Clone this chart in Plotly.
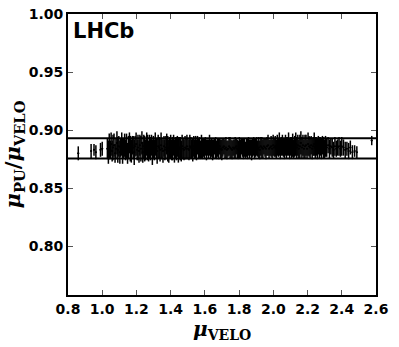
import plotly.graph_objects as go

# ---- data ----
x_early = [0.860, 0.935, 0.952, 0.963, 0.990, 1.000]
y_early = [0.880, 0.882, 0.883, 0.881, 0.883, 0.884]
e_early = [0.006, 0.006, 0.005, 0.006, 0.006, 0.006]

x_main = [
    1.030,1.036,1.041,1.047,1.052,1.058,1.063,1.069,1.075,1.080,
    1.086,1.091,1.097,1.103,1.108,1.114,1.119,1.125,1.131,1.136,
    1.142,1.148,1.153,1.159,1.164,1.170,1.176,1.181,1.187,1.192,
    1.198,1.204,1.209,1.215,1.220,1.226,1.232,1.237,1.243,1.248,
    1.254,1.260,1.265,1.271,1.276,1.282,1.288,1.293,1.299,1.305,
    1.310,1.316,1.321,1.327,1.333,1.338,1.344,1.349,1.355,1.361,
    1.366,1.372,1.377,1.383,1.389,1.394,1.400,1.406,1.411,1.417,
    1.422,1.428,1.434,1.439,1.445,1.450,1.456,1.462,1.467,1.473,
    1.478,1.484,1.490,1.495,1.501,1.507,1.512,1.518,1.523,1.529,
    1.535,1.540,1.546,1.551,1.557,1.563,1.568,1.574,1.580,1.585,
    1.591,1.597,1.603,1.609,1.615,1.621,1.627,1.633,1.639,1.645,
    1.651,1.657,1.663,1.669,1.675,1.681,1.687,1.693,1.699,1.705,
    1.711,1.717,1.723,1.729,1.735,1.741,1.747,1.753,1.759,1.765,
    1.771,1.777,1.783,1.789,1.795,1.801,1.807,1.813,1.819,1.825,
    1.831,1.837,1.843,1.849,1.855,1.861,1.867,1.873,1.879,1.885,
    1.891,1.897,1.903,1.909,1.915,1.921,1.927,1.933,1.939,1.945,
    1.951,1.957,1.963,1.969,1.975,1.981,1.987,1.993,1.999,2.005,
    2.011,2.017,2.023,2.029,2.035,2.041,2.047,2.053,2.059,2.065,
    2.071,2.077,2.083,2.089,2.095,2.101,2.107,2.113,2.119,2.125,
    2.131,2.137,2.143,2.149,2.155,2.161,2.167,2.173,2.179,2.185,
    2.191,2.197,2.203,2.209,2.215,2.221,2.227,2.233,2.239,2.245,
    2.251,2.257,2.263,2.269,2.275,2.281,2.287,2.293,2.299,2.305,
    2.312,2.320,2.328,2.336,2.344,2.352,2.360,2.368,2.376,2.384,
    2.392,2.400,2.410,2.420,2.430,2.440,2.450,2.462,2.475,2.488,
]
y_main = [
    0.884,0.881,0.886,0.883,0.888,0.882,0.885,0.887,0.880,0.884,
    0.889,0.883,0.886,0.881,0.885,0.888,0.882,0.884,0.887,0.883,
    0.886,0.880,0.885,0.889,0.884,0.882,0.887,0.885,0.881,0.886,
    0.888,0.883,0.885,0.882,0.887,0.884,0.889,0.881,0.886,0.884,
    0.883,0.888,0.885,0.882,0.886,0.884,0.887,0.881,0.885,0.883,
    0.888,0.884,0.882,0.886,0.885,0.883,0.887,0.884,0.882,0.886,
    0.883,0.885,0.888,0.884,0.882,0.885,0.886,0.883,0.884,0.887,
    0.882,0.885,0.884,0.886,0.883,0.885,0.884,0.882,0.886,0.884,
    0.883,0.885,0.884,0.886,0.884,0.883,0.886,0.885,0.884,0.883,
    0.886,0.884,0.885,0.883,0.887,0.884,0.885,0.883,0.886,0.884,
    0.885,0.884,0.886,0.883,0.885,0.884,0.887,0.884,0.885,0.883,
    0.884,0.886,0.885,0.883,0.885,0.884,0.886,0.884,0.883,0.885,
    0.886,0.884,0.885,0.883,0.884,0.886,0.885,0.884,0.883,0.885,
    0.884,0.885,0.886,0.884,0.883,0.885,0.884,0.886,0.885,0.884,
    0.885,0.883,0.885,0.884,0.886,0.884,0.885,0.883,0.885,0.886,
    0.884,0.885,0.886,0.884,0.885,0.883,0.886,0.885,0.884,0.886,
    0.885,0.884,0.886,0.887,0.884,0.885,0.886,0.884,0.887,0.885,
    0.886,0.884,0.887,0.885,0.888,0.884,0.886,0.887,0.885,0.884,
    0.887,0.885,0.886,0.888,0.884,0.886,0.885,0.887,0.884,0.886,
    0.888,0.885,0.887,0.884,0.886,0.889,0.885,0.887,0.884,0.886,
    0.887,0.884,0.888,0.886,0.885,0.887,0.884,0.886,0.888,0.885,
    0.886,0.884,0.887,0.885,0.886,0.884,0.887,0.885,0.884,0.886,
    0.885,0.887,0.884,0.886,0.885,0.883,0.886,0.884,0.885,0.886,
    0.884,0.886,0.885,0.883,0.884,0.882,0.885,0.881,0.882,0.881,
]
e_main = [
    0.009,0.010,0.011,0.008,0.010,0.009,0.011,0.010,0.008,0.009,
    0.010,0.011,0.009,0.010,0.008,0.010,0.011,0.009,0.010,0.009,
    0.011,0.009,0.010,0.009,0.011,0.010,0.008,0.010,0.011,0.009,
    0.010,0.009,0.011,0.010,0.009,0.011,0.010,0.009,0.010,0.011,
    0.009,0.010,0.011,0.009,0.010,0.010,0.009,0.011,0.010,0.009,
    0.010,0.009,0.011,0.010,0.009,0.010,0.011,0.009,0.010,0.009,
    0.009,0.010,0.009,0.011,0.010,0.009,0.010,0.009,0.010,0.009,
    0.010,0.009,0.010,0.009,0.011,0.009,0.010,0.009,0.010,0.009,
    0.009,0.010,0.009,0.010,0.009,0.009,0.010,0.009,0.008,0.010,
    0.009,0.008,0.010,0.009,0.008,0.009,0.009,0.008,0.010,0.009,
    0.008,0.009,0.008,0.009,0.007,0.008,0.009,0.008,0.008,0.009,
    0.008,0.007,0.009,0.008,0.008,0.009,0.007,0.008,0.009,0.008,
    0.007,0.008,0.009,0.008,0.007,0.008,0.009,0.008,0.008,0.007,
    0.008,0.009,0.007,0.008,0.008,0.009,0.008,0.007,0.008,0.009,
    0.008,0.007,0.008,0.009,0.008,0.008,0.007,0.009,0.008,0.008,
    0.009,0.008,0.008,0.007,0.009,0.008,0.008,0.009,0.008,0.007,
    0.008,0.009,0.008,0.009,0.008,0.007,0.009,0.008,0.009,0.008,
    0.009,0.008,0.009,0.008,0.010,0.009,0.008,0.009,0.008,0.009,
    0.009,0.009,0.008,0.010,0.009,0.008,0.009,0.010,0.008,0.009,
    0.010,0.009,0.009,0.008,0.010,0.010,0.009,0.009,0.008,0.010,
    0.009,0.008,0.010,0.009,0.009,0.008,0.009,0.008,0.010,0.009,
    0.008,0.009,0.008,0.009,0.008,0.009,0.008,0.009,0.008,0.009,
    0.008,0.007,0.008,0.007,0.008,0.007,0.008,0.007,0.007,0.008,
    0.007,0.008,0.007,0.007,0.006,0.007,0.006,0.006,0.005,0.005,
]
x_last = [2.575]
y_last = [0.891]
e_last = [0.004]

x_bin_halfwidth = 0.006
band_upper = 0.893
band_lower = 0.8755

x_ticks = [0.8, 1.0, 1.2, 1.4, 1.6, 1.8, 2.0, 2.2, 2.4, 2.6]
y_ticks = [0.80, 0.85, 0.90, 0.95, 1.00]

xs = x_early + x_main + x_last
ys = y_early + y_main + y_last
es = e_early + e_main + e_last

fig = go.Figure()
fig.add_trace(go.Scatter(
    x=xs, y=ys, mode="markers",
    marker=dict(color="black", size=2),
    error_y=dict(type="data", array=es, color="black", thickness=1.5, width=0),
    error_x=dict(type="data", array=[x_bin_halfwidth] * len(xs), color="black", thickness=1, width=0),
    showlegend=False,
))

for yv in (band_upper, band_lower):
    fig.add_shape(type="line", xref="paper", yref="y", x0=0, x1=1, y0=yv, y1=yv,
                  line=dict(color="black", width=2))

fig.add_annotation(text="<b>LHCb</b>", xref="paper", yref="paper", x=0.01, y=0.99,
                   xanchor="left", yanchor="top", showarrow=False,
                   font=dict(family="DejaVu Sans", size=21, color="black"))

# x-axis title
fig.add_annotation(text="<i>μ</i><sub>VELO</sub>", xref="paper", yref="paper", x=0.5, y=-0.07,
                   xanchor="center", yanchor="top", showarrow=False,
                   font=dict(family="DejaVu Serif", size=20, color="black", weight="bold"))

axis_common = dict(showline=True, linecolor="black", linewidth=2, mirror="allticks",
                   ticks="inside", ticklen=5, tickwidth=1, tickcolor="#555",
                   showgrid=False, zeroline=False, automargin=False,
                   tickfont=dict(family="DejaVu Sans", size=14, color="black", weight="bold"))

fig.update_xaxes(range=[0.8, 2.6], tickvals=x_ticks, tickformat=".1f", **axis_common)
fig.update_yaxes(range=[0.758, 1.0], tickvals=y_ticks, tickformat=".2f",
                 title=dict(text="<i>μ</i><sub>PU</sub>/<i>μ</i><sub>VELO</sub>", standoff=2,
                            font=dict(family="DejaVu Serif", size=21, color="black", weight="bold")),
                 **axis_common)

fig.update_layout(width=399, height=347, margin=dict(l=68, r=23, t=14, b=52),
                  plot_bgcolor="white", paper_bgcolor="white")

fig.write_html("out.html", config={"displayModeBar": False},
               post_script="document.body.style.margin='0';")
